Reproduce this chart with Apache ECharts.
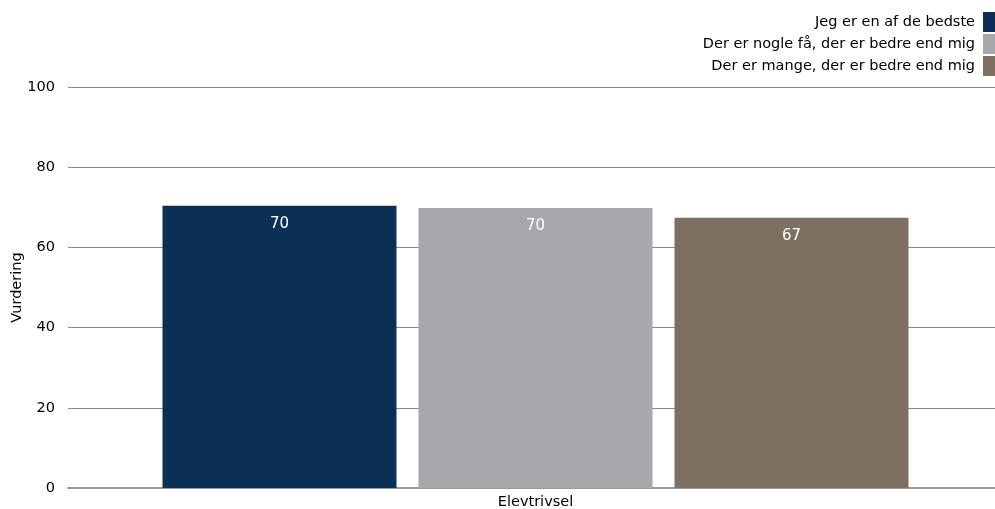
<!DOCTYPE html>
<html>
<head>
<meta charset="utf-8">
<script src="https://cdn.jsdelivr.net/npm/echarts@6/dist/echarts.min.js"></script>
<style>
  html, body { margin: 0; padding: 0; background: #fff; }
  #chart { width: 995px; height: 509px; }
</style>
</head>
<body>
<div id="chart"></div>
<script>
  // data
  let categories = ['Elevtrivsel']
  let seriesNames = ['Jeg er en af de bedste', 'Der er nogle få, der er bedre end mig', 'Der er mange, der er bedre end mig']
  let bedste = [70.4]
  let nogleFaa = [69.8]
  let mange = [67.4]
  let colors = ['#0c2f55', '#a7a8ac', '#7d7060']
  let font = 'DejaVu Sans'

  let myChart = echarts.init(document.getElementById('chart'))
  let values = [bedste, nogleFaa, mange]

  let option = {
    animation: false,
    textStyle: { fontFamily: font },
    legend: {
      orient: 'vertical',
      right: 0,
      top: 12,
      padding: 0,
      align: 'right',
      itemWidth: 12,
      itemHeight: 20,
      itemGap: 2,
      icon: 'rect',
      textStyle: { fontFamily: font, fontSize: 14.5, color: '#000', padding: [0, 3, 0, 0] },
      data: seriesNames
    },
    grid: { left: 68, right: -8, top: 87, bottom: 21, outerBoundsMode: 'none', containLabel: false },
    xAxis: {
      type: 'category',
      data: categories,
      axisTick: { show: false },
      axisLine: { lineStyle: { color: '#999', width: 2 } },
      axisLabel: { color: '#000', fontSize: 14.5, margin: 7 }
    },
    yAxis: {
      type: 'value',
      min: 0,
      max: 100,
      interval: 20,
      name: 'Vurdering',
      nameLocation: 'middle',
      nameGap: 43,
      nameMoveOverlap: false,
      nameTextStyle: { color: '#000', fontSize: 14.5 },
      axisLabel: { color: '#000', fontSize: 14.5, margin: 13 },
      splitLine: { lineStyle: { color: '#888', width: 1 } }
    },
    series: seriesNames.map(function (name, i) {
      return {
        name: name,
        type: 'bar',
        data: values[i],
        barWidth: 234,
        barGap: '9.4%',
        itemStyle: { color: colors[i] },
        label: {
          show: true,
          position: 'insideTop',
          distance: 11,
          color: '#fff',
          fontSize: 15,
          formatter: function (p) { return Math.round(p.value) }
        }
      }
    })
  }
  myChart.setOption(option)
</script>
</body>
</html>
